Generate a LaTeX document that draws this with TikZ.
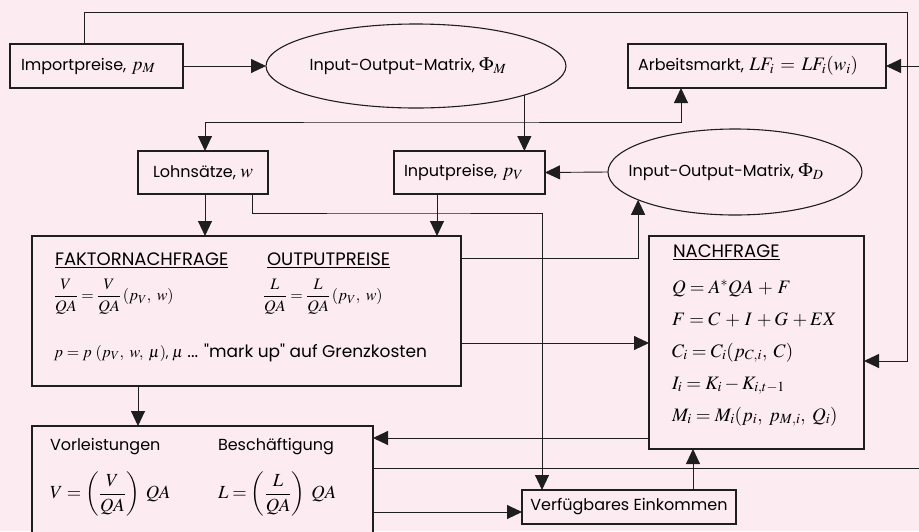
\documentclass[tikz,border=0pt]{standalone}
\usepackage{amsmath}
\usepackage{mathptmx}
\usepackage[no-math]{fontspec}
\setmainfont{Poppins}[Ligatures=TeXOff]
\DeclareMathSizes{16}{19}{14}{11}
\DeclareMathSizes{13.5}{16}{12}{9}
\DeclareMathSizes{15.5}{18.5}{13}{10}
\usetikzlibrary{arrows.meta,shapes.geometric}
\definecolor{bgpink}{RGB}{252,236,241}
\definecolor{ink}{RGB}{30,30,30}
\tikzset{
  box/.style={draw=ink, line width=1.2pt, fill=bgpink, outer sep=0pt, anchor=north west},
  ell/.style={draw=ink, line width=1.1pt, fill=bgpink, ellipse, inner sep=0pt, outer sep=0pt},
  txt/.style={inner sep=0pt, outer sep=0pt},
  head/.style={txt, font=\fontsize{18}{21}\selectfont},
  conn/.style={draw=ink, line width=0.9pt},
  arr/.style={conn, -{Triangle[length=15pt,width=14pt]}},
  arrboth/.style={conn, {Triangle[length=15pt,width=14pt]}-{Triangle[length=15pt,width=14pt]}}
}
\begin{document}
\begin{tikzpicture}[x=1pt,y=-1pt,font=\fontsize{16}{19}\selectfont]
\useasboundingbox (0,0) rectangle (919,531);
\fill[bgpink] (0,0) rectangle (919,531);
\clip (0,0) rectangle (919,531);

% boxes
\node[box, text width=151pt, inner xsep=11pt, minimum height=44pt, align=left] (imp) at (10,44) {Importpreise, $p_M$};
\node[box, text width=238pt, inner xsep=10pt, minimum height=44pt, align=left] (arb) at (628,44) {Arbeitsmarkt, $LF_i\, =\, LF_i(w_i)$};
\node[box, minimum width=130pt, minimum height=43pt] (lohn) at (138,151) {Lohnsätze, $w$};
\node[box, text width=131pt, inner xsep=10pt, minimum height=43pt, align=left] (inp) at (394,151) {Inputpreise, $p_V$};
\node[box, minimum width=429pt, minimum height=150pt] (faktor) at (32,236) {};
\node[box, minimum width=215pt, minimum height=213pt] (nach) at (649,236) {};
\node[box, minimum width=341pt, minimum height=140pt] (vor) at (32,426) {};
\node[box, minimum width=214pt, minimum height=34pt] (verf) at (522,490) {Verfügbares Einkommen};

% ellipses
\node[ell, minimum width=300pt, minimum height=84pt] (phiM) at (416,66) {};
\node[txt] (phiMt) at (408,66) {Input-Output-Matrix, $\Phi_M$};
\node[ell, minimum width=254pt, minimum height=86pt] (phiD) at (735,172) {};
\node[txt] (phiDt) at (726,172) {Input-Output-Matrix, $\Phi_D$};

% texts in FAKTORNACHFRAGE box
\node[head, anchor=base west] (fn) at (55,265) {\underline{FAKTORNACHFRAGE}};
\node[head, anchor=base west] (op) at (267,265) {\underline{OUTPUTPREISE}};
\node[txt, anchor=west, font=\fontsize{13.5}{16}\selectfont] (f1) at (54,297) {$\dfrac{V}{QA} = \dfrac{V}{QA}\,(p_V,\ w)$};
\node[txt, anchor=west, font=\fontsize{13.5}{16}\selectfont] (f2) at (263,297) {$\dfrac{L}{QA} = \dfrac{L}{QA}\,(p_V,\ w)$};
\node[txt, anchor=base west] (f3) at (54,357) {{\fontsize{13.5}{16}\selectfont $p = p\ (p_V,\ w,\ \mu)$, $\mu$} {\fontsize{17}{20}\selectfont ... "mark up" auf Grenzkosten}};

% texts in NACHFRAGE box
\node[head, anchor=base west] (nh) at (673,257) {\underline{NACHFRAGE}};
\node[txt, anchor=base west] (n1) at (672,293) {$Q = A^{*}QA\,+\,F$};
\node[txt, anchor=base west] (n2) at (672,325) {$F = C\,+\,I\,+G\,+EX$};
\node[txt, anchor=base west] (n3) at (672,357) {$C_i = C_i(p_{C,i},\ C)$};
\node[txt, anchor=base west] (n4) at (672,389) {$I_i = K_i - K_{i,t-1}$};
\node[txt, anchor=base west] (n5) at (672,421) {$M_i = M_i(p_i,\ p_{M,i},\ Q_i)$};

% texts in Vorleistungen box
\node[txt, anchor=base west] (vl) at (50,450) {Vorleistungen};
\node[txt, anchor=base west] (bs) at (218,450) {Beschäftigung};
\node[txt, anchor=west, font=\fontsize{15.5}{18}\selectfont] (v1) at (50,494) {$V = \left(\dfrac{V}{QA}\right)\ QA$};
\node[txt, anchor=west, font=\fontsize{15.5}{18}\selectfont] (v2) at (218,494) {$L = \left(\dfrac{L}{QA}\right)\ QA$};

% helper coordinates
\coordinate (tr) at (907,12);
\coordinate (mid1) at (400,122);
\coordinate (mid2) at (400,213);
\coordinate (redge1) at (919,66);
\coordinate (redge2) at (919,468);
\coordinate (impup) at ([xshift=74pt]imp.north west);
\coordinate (lohnin) at ([xshift=67pt]lohn.north west);
\coordinate (arbin) at ([xshift=53pt]arb.south west);
\coordinate (lohnout1) at ([xshift=67pt]lohn.south west);
\coordinate (lohnout2) at ([xshift=114pt]lohn.south west);
\coordinate (inpout) at ([xshift=43pt]inp.south west);
\coordinate (verfin) at ([xshift=20pt]verf.north west);
\coordinate (nachinR) at ([yshift=-125pt]nach.north east);
\coordinate (faktout1) at ([yshift=-22pt]faktor.north east);
\coordinate (faktout2) at ([yshift=-107pt]faktor.north east);
\coordinate (faktdown) at ([xshift=106pt]faktor.south west);
\coordinate (nachout) at ([yshift=-202pt]nach.north west);
\coordinate (verfinL) at ([yshift=-22pt]verf.north west);
\coordinate (verfout) at ([xshift=171pt]verf.north west);

% connectors
\draw[arr] (impup) |- (tr) |- (nachinR);
\draw[arr] (imp.east) -- (phiM.west);
\draw[arr] (redge1) -- (arb.east);
\draw[arr] (phiM.-15.4) -- (phiM.-15.4 |- inp.north);
\draw[arrboth] (lohnin) |- (mid1) -| (arbin);
\draw[arr] (lohnout1) -- (lohnout1 |- faktor.north);
\draw[arr] (lohnout2) |- (mid2) -| (verfin);
\draw[arr] (inpout) -- (inpout |- faktor.north);
\draw[arr] (phiD.west) -- (inp.east);
\draw[arr] (faktout1) -| (phiD.196.4);
\draw[arr] (faktout2) -- (faktout2 -| nach.west);
\draw[arr] (faktdown) -- (faktdown |- vor.north);
\draw[arr] (nachout) -- (nachout -| vor.east);
\draw[conn] (redge2 -| vor.east) -- (redge2);
\draw[arr] (verfinL -| vor.east) -- (verfinL);
\draw[arr] (verfout) -- (verfout |- nach.south);
\end{tikzpicture}
\end{document}
